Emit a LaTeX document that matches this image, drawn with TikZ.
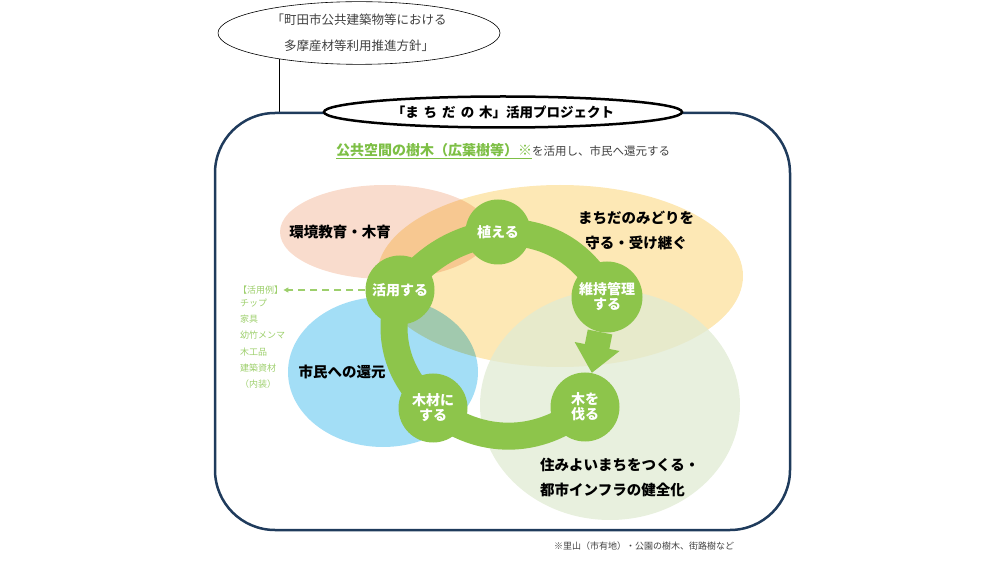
\documentclass[tikz,border=0pt]{standalone}
\usepackage{fontspec}
\setmainfont{Noto Sans CJK JP}
\usetikzlibrary{arrows.meta,shapes.geometric}
\pgfdeclarelayer{fondo}
\pgfdeclarelayer{cinta}
\pgfsetlayers{fondo, cinta, main}
\definecolor{verde}{HTML}{8DC54B}
\definecolor{verdetxt}{HTML}{7DBF45}
\definecolor{verdeclaro}{HTML}{9DCF6C}
\definecolor{marino}{HTML}{1F3B5C}
\definecolor{rosa}{HTML}{F9DCCD}
\definecolor{amarillo}{HTML}{FDE8B5}
\definecolor{celeste}{HTML}{A3DEF6}
\definecolor{pasto}{HTML}{E0EBD3}
\definecolor{gris}{HTML}{404040}
\tikzstyle{etapa}=[circle,fill=verde,text=white,inner sep=0pt,minimum size=69pt,align=center,font=\bfseries\fontsize{14}{15}\selectfont]
\tikzstyle{banda}=[verde,line width=27pt]
\tikzstyle{rotulo}=[inner sep=0pt,align=left,font=\bfseries\fontsize{14.5}{25}\selectfont]
\tikzstyle{lista}=[anchor=west,inner sep=0pt,text=verdeclaro,font=\fontsize{9}{10}\selectfont]

\begin{document}
\begin{tikzpicture}[x=1pt,y=-1pt]
		\useasboundingbox (0,0) rectangle (1002,561);
		\draw [marino,line width=2.5pt,rounded corners=60pt] (215,113) rectangle (790,530);
		\node[ellipse,draw=black,fill=white,line width=0.6pt,minimum width=282pt,minimum height=59pt,align=center,font=\fontsize{12.5}{26}\selectfont,text=gris] (hoshin) at (359,33) {「町田市公共建築物等における\\多摩産材等利用推進方針」};
		\coordinate (esquina) at (279,113);
		\begin{pgfonlayer}{fondo}
			\draw [line width=0.6pt] (esquina) -- (esquina |- hoshin.center);
			\fill [rosa] (385,232) ellipse (105 and 47);
			\fill [amarillo,blend mode=multiply] (560,276) ellipse (183 and 91);
			\fill [celeste,blend mode=multiply] (383,372) ellipse (95 and 75);
			\fill [pasto,opacity=0.75] (610,405) ellipse (130 and 115);
		\end{pgfonlayer}
		\node[ellipse,draw=black,fill=white,line width=2.5pt,minimum width=358pt,minimum height=31pt,font=\bfseries\fontsize{13.5}{15}\selectfont] (proy) at (503,112) {「ま\hspace{5pt}ち\hspace{5pt}だ\hspace{5pt}の\hspace{5pt}木」活用プロジェクト};
		\node[inner sep=0pt] (lema) at (503,151) {{\color{verdetxt}\bfseries\fontsize{14}{16}\selectfont\underline{公共空間の樹木（広葉樹等）※}}{\color{gris}\fontsize{11.5}{14}\selectfont を活用し、市民へ還元する}};
		% textos de las zonas
		\node[rotulo] (kyoiku) at (340,232) {環境教育・木育};
		\node[rotulo,align=center] (midori) at (636,230) {まちだのみどりを\\守る・受け継ぐ};
		\node[rotulo] (kangen) at (342,372) {市民への還元};
		\node[rotulo,anchor=west] (sumi) at (540,477) {住みよいまちをつくる・\\都市インフラの健全化};
		% ciclo
		\node[etapa,minimum size=65pt] (ueru) at (498,232) {植える};
		\node[etapa,minimum size=71pt] (iji) at (607,297) {維持管理\\する};
		\node[etapa] (kiru) at (585,407) {木を\\伐る};
		\node[etapa] (mokuzai) at (433,408) {木材に\\する};
		\node[etapa] (katsuyo) at (400,290) {活用する};
		\begin{pgfonlayer}{cinta}
			\draw [banda] (katsuyo.center) to[bend left=20] (ueru.center);
			\draw [banda] (ueru.center) to[bend left=32] (iji.center);
			\draw [banda] (kiru.center) to[bend left=40] (mokuzai.center);
			\draw [banda] (mokuzai.center) to[bend left=33] (katsuyo.center);
			\draw [verde,line width=25pt,-{Triangle[length=27pt,width=44pt]}] (iji) -- (kiru);
		\end{pgfonlayer}
		% ejemplos de uso
		\node[lista] (rei) at (238,290) {【活用例】};
		\draw [verdeclaro,line width=1.3pt,dash pattern=on 7pt off 5pt,-{Triangle[length=5pt,width=5pt]}] (katsuyo) -- (rei);
		\foreach \cosa [count=\i] in {チップ,家具,幼竹メンマ,木工品,建築資材,（内装）}
			\node[lista] (rei\i) at (240,303+16.2*\i-16.2) {\cosa};
		\node[inner sep=0pt,text=gris,font=\fontsize{9}{10}\selectfont] (nota) at (644,546) {※里山（市有地）・公園の樹木、街路樹など};
	\end{tikzpicture}
\end{document}
